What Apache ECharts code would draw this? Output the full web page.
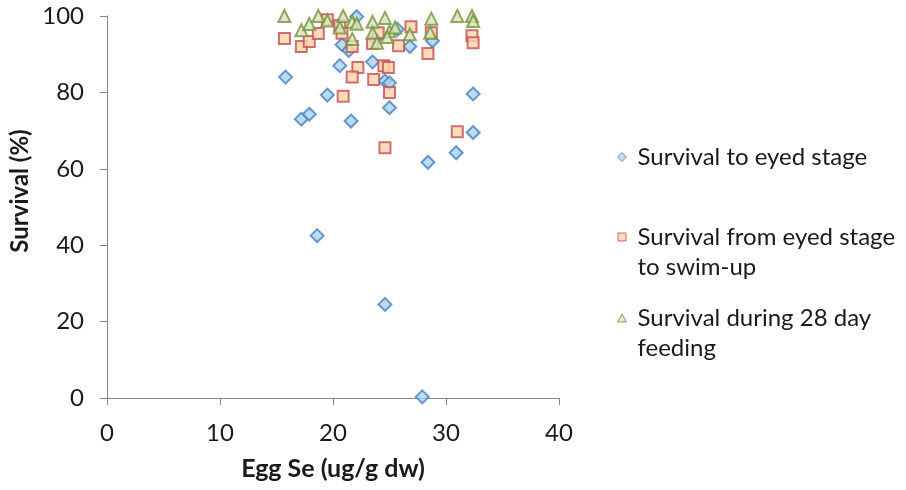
<!DOCTYPE html>
<html>
<head>
<meta charset="utf-8">
<script src="https://cdn.jsdelivr.net/npm/echarts@6/dist/echarts.min.js"></script>
<style>html,body{margin:0;padding:0;background:#fff}#c{width:906px;height:490px}</style>
</head>
<body>
<div id="c"></div>
<script>
// Survival to eyed stage
const eyedX = [15.8, 17.2, 17.9, 18.6, 19.5, 20.6, 20.8, 21.4, 21.6, 22.1, 23.5, 23.7, 24.6, 24.6, 25.0, 25.0, 25.7, 26.8, 27.9, 28.4, 28.8, 30.9, 32.4, 32.4];
const eyedY = [84.0, 73.0, 74.3, 42.5, 79.3, 87.0, 92.5, 91.0, 72.5, 99.8, 88.0, 94.0, 24.5, 83.0, 82.5, 76.0, 96.5, 92.0, 0.3, 61.7, 93.5, 64.2, 69.5, 79.6];
// Survival from eyed stage to swim-up
const swimX = [15.7, 17.2, 17.9, 18.7, 19.5, 20.6, 20.8, 21.7, 22.2, 21.7, 20.9, 23.5, 24.0, 24.5, 24.9, 23.6, 25.0, 24.6, 25.8, 26.9, 28.7, 28.4, 32.3, 32.4, 31.0];
const swimY = [94.1, 92.0, 93.3, 95.4, 99.0, 97.5, 95.5, 92.0, 86.5, 84.0, 79.0, 92.8, 95.6, 87.0, 86.5, 83.4, 80.0, 65.5, 92.2, 97.2, 95.6, 90.2, 94.8, 93.0, 69.7];
// Survival during 28 day feeding
const feedX = [15.7, 17.2, 17.9, 18.7, 19.5, 20.6, 20.9, 21.7, 22.1, 21.7, 23.5, 23.5, 23.9, 24.6, 25.0, 25.5, 24.8, 26.8, 28.7, 28.6, 31.0, 32.3, 32.4];
const feedY = [100.0, 96.3, 97.9, 100.0, 98.8, 97.0, 100.0, 98.5, 98.0, 94.0, 98.5, 95.6, 93.0, 99.5, 96.0, 97.0, 94.5, 95.2, 99.3, 95.6, 100.0, 100.0, 98.7];

const seriesNames = ['Survival to eyed stage', 'Survival from eyed stage\nto swim-up', 'Survival during 28 day\nfeeding'];
const xTicks = [0, 10, 20, 30, 40];
const yTicks = [0, 20, 40, 60, 80, 100];

const zip = (xs, ys) => xs.map((x, i) => [x, ys[i]]);
const FONT = 'Lato';
const FS = 24;
const TXT = '#1a1a1a';
const AX = '#868686';

const chart = echarts.init(document.getElementById('c'), null, {renderer: 'canvas'});
const legendBase = {
  orient: 'vertical', left: 617, padding: 0, itemWidth: 15, itemGap: 0,
  selectedMode: false,
  itemStyle: {borderWidth: 1},
  textStyle: {fontFamily: FONT, fontSize: FS, color: TXT, lineHeight: 30}
};
chart.setOption({
  animation: false,
  grid: {left: 107, right: 347, top: 16, bottom: 92, containLabel: false},
  xAxis: {
    type: 'value', min: xTicks[0], max: xTicks[xTicks.length - 1], interval: 10,
    name: 'Egg Se (ug/g dw)', nameLocation: 'middle', nameGap: 58,
    nameTextStyle: {fontFamily: FONT, fontSize: 25, fontWeight: 'bold', color: TXT},
    axisLine: {lineStyle: {color: AX, width: 1}},
    axisTick: {show: true, inside: false, length: 7, lineStyle: {color: AX}},
    axisLabel: {fontFamily: FONT, fontSize: FS, color: TXT, margin: 23},
    splitLine: {show: false}
  },
  yAxis: {
    type: 'value', min: yTicks[0], max: yTicks[yTicks.length - 1], interval: 20,
    name: 'Survival (%)', nameLocation: 'middle', nameGap: 75,
    nameTextStyle: {fontFamily: FONT, fontSize: FS, fontWeight: 'bold', color: TXT, padding: [0, 0, 0, 32]},
    axisLine: {show: true, lineStyle: {color: AX, width: 1}},
    axisTick: {show: true, inside: false, length: 7, lineStyle: {color: AX}},
    axisLabel: {fontFamily: FONT, fontSize: FS, color: TXT, margin: 23},
    splitLine: {show: false}
  },
  legend: [
    Object.assign({}, legendBase, {top: 142, itemHeight: 9,
      data: [{name: seriesNames[0], icon: 'path://M4.5,0L9,4.5L4.5,9L0,4.5ZM15,9'}]}),
    Object.assign({}, legendBase, {top: 222, itemHeight: 39,
      data: [{name: seriesNames[1], icon: 'path://M0,0M0.5,0.5L8.5,0.5L8.5,8.5L0.5,8.5ZM15,39'}]}),
    Object.assign({}, legendBase, {top: 303, itemHeight: 39,
      data: [{name: seriesNames[2], icon: 'path://M0,0M4.5,0.5L9,8.5L0,8.5ZM15,39'}]})
  ],
  series: [
    {
      name: seriesNames[0], type: 'scatter', data: zip(eyedX, eyedY), symbol: 'diamond', symbolSize: 13,
      itemStyle: {color: '#a8d3ea', borderColor: '#4a7fc0', borderWidth: 2}, z: 2
    },
    {
      name: seriesNames[1], type: 'scatter', data: zip(swimX, swimY), symbol: 'rect', symbolSize: 11,
      itemStyle: {color: '#fdd3ae', borderColor: '#c0504d', borderWidth: 2}, z: 3
    },
    {
      name: seriesNames[2], type: 'scatter', data: zip(feedX, feedY), symbol: 'triangle', symbolSize: 12,
      itemStyle: {color: '#d7e4bd', borderColor: '#77933c', borderWidth: 2}, z: 4
    }
  ]
});
</script>
</body>
</html>
